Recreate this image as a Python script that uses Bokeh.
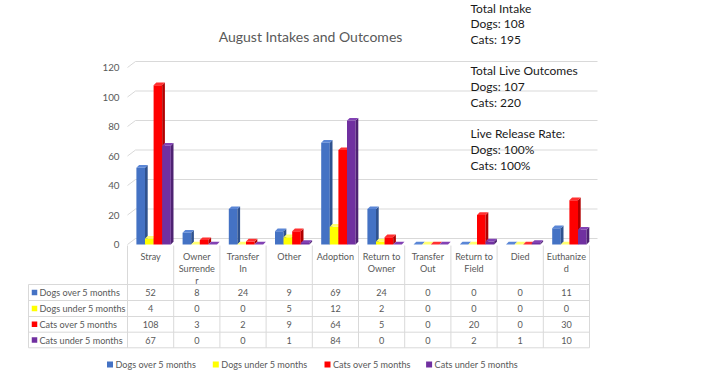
from bokeh.plotting import figure
from bokeh.models import Range1d
from bokeh.core.properties import value
from bokeh.embed import file_html
from bokeh.resources import INLINE

# ---------------- data ----------------
categories = ["Stray", "Owner\nSurrende\nr", "Transfer\nIn", "Other", "Adoption",
              "Return to\nOwner", "Transfer\nOut", "Return to\nField", "Died", "Euthanize\nd"]
series_names = ["Dogs over 5 months", "Dogs under 5 months", "Cats over 5 months", "Cats under 5 months"]
dogs_over_5 = [52, 8, 24, 9, 69, 24, 0, 0, 0, 11]
dogs_under_5 = [4, 0, 0, 5, 12, 2, 0, 0, 0, 0]
cats_over_5 = [108, 3, 2, 9, 64, 5, 0, 20, 0, 30]
cats_under_5 = [67, 0, 0, 1, 84, 0, 0, 2, 1, 10]
y_ticks = [0, 20, 40, 60, 80, 100, 120]
title_text = "August Intakes and Outcomes"
note_lines = ["Total Intake", "Dogs: 108", "Cats: 195", "",
              "Total Live Outcomes", "Dogs: 107", "Cats: 220", "",
              "Live Release Rate:", "Dogs: 100%", "Cats: 100%"]

series = [dogs_over_5, dogs_under_5, cats_over_5, cats_under_5]

# ---------------- styles ----------------
FONT = "Lato"
SMALL = "9.1px"
GRAY = "#595959"
GRID = "#D9D9D9"
front_colors = ["#4472C4", "#FFFF00", "#FF0000", "#7030A0"]
side_colors = ["#2F528F", "#BDBD00", "#B00000", "#4E2272"]
top_colors = ["#5A86D6", "#FFFF70", "#FF3030", "#8242B4"]

# pixel <-> data helpers (picture px)
X0, XS = 150.1, 46.2      # px of category 0 centre, px per category
Y0, YS = 244.0, 1.475     # px of value 0, px per unit
W, H = 710, 375


def dx(px):
    return (px - X0) / XS


def dy(py):
    return (Y0 - py) / YS


p = figure(width=W, height=H,
           x_range=Range1d(dx(0), dx(W)), y_range=Range1d(dy(H), dy(0)),
           output_backend="svg", toolbar_location=None, min_border=0,
           x_axis_type=None, y_axis_type=None)
p.grid.visible = False
p.outline_line_color = None
p.background_fill_color = "white"
p.border_fill_color = "white"

# ---------------- gridlines (3D back wall) ----------------
back_dx = 8 / XS
back_dy = 6 / YS
gx0, gy0, gx1, gy1 = [], [], [], []
for v in y_ticks:
    gx0 += [dx(127), dx(127) + back_dx]
    gy0 += [v, v + back_dy]
    gx1 += [dx(127) + back_dx, dx(597)]
    gy1 += [v + back_dy, v + back_dy]
p.segment(gx0, gy0, gx1, gy1, line_color=GRID, line_width=1)

p.text(x=[dx(119)] * len(y_ticks), y=y_ticks, text=[str(t) for t in y_ticks],
       text_font=value(FONT), text_font_size="9.8px", text_color=GRAY,
       text_align="right", text_baseline="middle")

# ---------------- 3D bars ----------------
bw = 8.6 / XS
off = -14.2 / XS
ddx = 2.7 / XS
ddy = 2.7 / YS
for s, vals in enumerate(series):
    lefts = [i + off + s * bw for i in range(len(vals))]
    rights = [l + bw for l in lefts]
    p.quad(left=lefts, right=rights, bottom=[0] * len(vals), top=vals,
           fill_color=front_colors[s], line_color=None)
    side_xs = [[r, r + ddx, r + ddx, r] for r in rights]
    side_ys = [[0, ddy, v + ddy, v] for v in vals]
    p.patches(side_xs, side_ys, fill_color=side_colors[s], line_color=None)
    top_xs = [[l, l + ddx, r + ddx, r] for l, r in zip(lefts, rights)]
    top_ys = [[v, v + ddy, v + ddy, v] for v in vals]
    p.patches(top_xs, top_ys, fill_color=top_colors[s], line_color=None)

# ---------------- data table ----------------
n = len(categories)
col_edges = [i - 0.5 for i in range(n + 1)]
row_edges_px = [284, 300, 316, 331.7, 347.3]
tx0, ty0, tx1, ty1 = [], [], [], []
for e in col_edges:
    tx0.append(e); ty0.append(dy(245)); tx1.append(e); ty1.append(dy(347.3))
tx0.append(dx(28)); ty0.append(dy(284)); tx1.append(dx(28)); ty1.append(dy(347.3))
for r in row_edges_px:
    tx0.append(dx(28)); ty0.append(dy(r)); tx1.append(col_edges[-1]); ty1.append(dy(r))
p.segment(tx0, ty0, tx1, ty1, line_color=GRID, line_width=1)

hx, hy, ht = [], [], []
for i, c in enumerate(categories):
    for k, line in enumerate(c.split("\n")):
        hx.append(i); hy.append(dy(255.5 + 12 * k)); ht.append(line)
p.text(x=hx, y=hy, text=ht, text_font=value(FONT), text_font_size=SMALL,
       text_color=GRAY, text_align="center", text_baseline="middle")

vx, vy, vt = [], [], []
for s, vals in enumerate(series):
    rc = dy((row_edges_px[s] + row_edges_px[s + 1]) / 2)
    for i, v in enumerate(vals):
        vx.append(i); vy.append(rc); vt.append(str(v))
p.text(x=vx, y=vy, text=vt, text_font=value(FONT), text_font_size=SMALL,
       text_color=GRAY, text_align="center", text_baseline="middle")

row_centres = [dy((row_edges_px[s] + row_edges_px[s + 1]) / 2) for s in range(4)]
p.scatter(x=[dx(34)] * 4, y=row_centres, marker="square", size=5.5,
          fill_color=front_colors, line_color=None)
p.text(x=[dx(39)] * 4, y=row_centres, text=series_names, text_font=value(FONT),
       text_font_size=SMALL, text_color=GRAY, text_align="left", text_baseline="middle")

# ---------------- legend ----------------
leg_sq_px = [109.5, 215.3, 327, 428.6]
p.scatter(x=[dx(v) for v in leg_sq_px], y=[dy(364)] * 4, marker="square", size=6,
          fill_color=front_colors, line_color=None)
p.text(x=[dx(v + 5.5) for v in leg_sq_px], y=[dy(364)] * 4, text=series_names,
       text_font=value(FONT), text_font_size=SMALL, text_color=GRAY,
       text_align="left", text_baseline="middle")

# ---------------- title and note ----------------
p.text(x=[dx(310)], y=[dy(36)], text=[title_text], text_font=value(FONT),
       text_font_size="14px", text_color=GRAY, text_align="center", text_baseline="middle")

nx, ny, nt = [], [], []
for k, line in enumerate(note_lines):
    if line:
        nx.append(dx(470)); ny.append(dy(7.5 + 15.7 * k)); nt.append(line)
p.text(x=nx, y=ny, text=nt, text_font=value(FONT), text_font_size="12px",
       text_color="#1a1a1a", text_align="left", text_baseline="middle")

open("out.html", "w").write(file_html(p, INLINE))
